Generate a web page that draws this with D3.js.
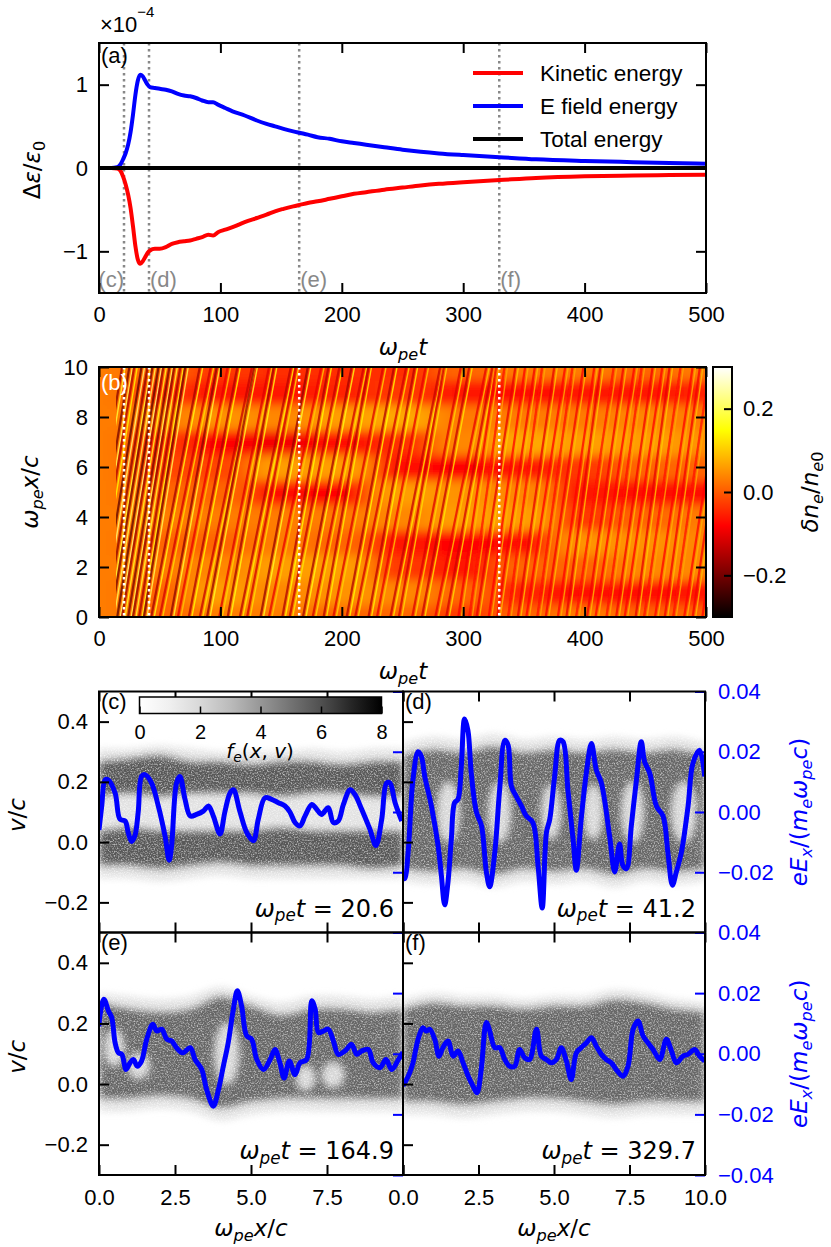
<!DOCTYPE html>
<html lang="en">

<head>
  <meta charset="UTF-8">
  <title>Energy exchange, density and phase space</title>
  <script src="https://d3js.org/d3.v7.min.js"></script>
  <style>
    body {
      margin: 0;
      background: white;
    }

    svg {
      display: block;
    }

    text {
      white-space: pre;
    }
  </style>
</head>

<body>
  <div id="figure"></div>

  <script>
    // ---------- (a) energy history, values in units of 1e-4 ----------
    const energyT = [0, 10, 15, 18, 20, 22, 24, 26, 28, 30, 32, 34, 36, 38, 40, 42, 46, 50, 55, 60, 65, 70, 75, 80,
      85, 90, 94, 98, 104, 110, 120, 130, 138, 145, 152, 160, 166, 172, 180, 190, 200, 210, 220, 235, 250, 265, 280,
      300, 330, 360, 400, 440, 470, 500]
    const fieldEnergy = [0, 0, 0.01, 0.05, 0.11, 0.18, 0.28, 0.43, 0.64, 0.88, 1.05, 1.12, 1.1, 1.05, 1.0, 0.97, 0.96,
      0.95, 0.94, 0.92, 0.89, 0.87, 0.86, 0.84, 0.81, 0.79, 0.79, 0.76, 0.72, 0.68, 0.63, 0.57, 0.53, 0.5, 0.47, 0.44,
      0.42, 0.4, 0.37, 0.35, 0.32, 0.3, 0.28, 0.25, 0.22, 0.195, 0.175, 0.155, 0.13, 0.105, 0.085, 0.07, 0.06, 0.05]
    const kineticEnergy = [0, 0, -0.005, -0.04, -0.11, -0.2, -0.32, -0.48, -0.7, -0.94, -1.1, -1.15, -1.12, -1.07,
      -1.02, -0.99, -0.97, -0.97, -0.95, -0.91, -0.89, -0.88, -0.87, -0.85, -0.83, -0.8, -0.81, -0.77, -0.74, -0.71,
      -0.65, -0.6, -0.56, -0.52, -0.49, -0.46, -0.44, -0.42, -0.4, -0.37, -0.34, -0.31, -0.29, -0.26, -0.235, -0.21,
      -0.19, -0.17, -0.145, -0.12, -0.1, -0.09, -0.085, -0.08]
    const totalT = [0, 500]
    const totalEnergy = [0, 0]
    const legendNames = ['Kinetic energy', 'E field energy', 'Total energy']
    const legendColors = ['#ff0000', '#0000ff', '#000000']
    const energyTicks = [-1, 0, 1]
    const timeTicks = [0, 100, 200, 300, 400, 500]

    // snapshot times shown in (c)-(f)
    const snapTimes = [20.6, 41.2, 164.9, 329.7]
    const snapNames = ['(c)', '(d)', '(e)', '(f)']

    // ---------- (b) density perturbation dn/n0 ----------
    const bgT = [0, 50, 100, 150, 200, 250, 300, 350, 400, 450, 500]
    const bgX = [0, 1, 2, 3, 4, 5, 6, 7, 8, 9, 10]
    const bgDensity = [
      [0.03, 0.01, 0.03, 0.03, 0.01, 0.01, -0.03, 0.01, 0.03, 0.01, 0.01],
      [0.03, 0.01, 0.06, 0.04, 0.05, 0.04, 0.01, -0.05, -0.07, -0.07, -0.06],
      [0.03, 0.03, 0.04, 0.06, 0.06, -0.03, -0.06, 0.01, 0.01, 0.04, 0.04],
      [0.03, 0.01, 0.01, 0.03, 0.01, -0.06, -0.08, -0.07, 0.05, 0.05, 0.04],
      [0.03, 0.03, 0.03, 0.03, 0.03, 0.04, 0.06, 0.06, -0.03, 0.01, 0.03],
      [0.03, 0.01, 0.01, -0.07, -0.08, 0.06, 0.05, 0.04, -0.06, -0.07, -0.07],
      [0.03, -0.02, -0.02, 0.06, 0.06, -0.07, -0.08, -0.06, -0.03, 0.01, 0.01],
      [0.03, -0.03, -0.08, -0.09, -0.07, -0.04, 0.04, 0.07, 0.06, 0.06, 0.05],
      [0.03, 0.03, 0.05, 0.04, 0.06, 0.07, 0.03, 0.03, 0.03, 0.04, 0.03],
      [0.03, -0.03, -0.06, -0.06, -0.05, -0.03, -0.06, -0.07, -0.06, -0.06, -0.05],
      [0.03, 0.01, -0.03, -0.04, -0.04, -0.04, 0.01, 0.03, 0.03, 0.01, 0.03]
    ]
    // streaks: time where each crosses x = 0 and x = 10, and its strength
    const earlyStart = [-15, -9, -5, 1, 6, 10, 15, 19, 24, 28, 33, 37]
    const earlyEnd = [19, 25, 29, 35, 40, 44, 49, 53, 58, 62, 67, 71]
    const earlyAmp = [0.18, 0.2, 0.15, 0.22, 0.18, 0.2, 0.22, 0.17, 0.2, 0.18, 0.16, 0.2]
    const midStart = [43, 50, 59, 65, 74, 83, 89, 99, 106, 116, 122, 133, 140, 151, 157, 168, 176, 185, 193, 204, 211,
      222, 229, 240, 247, 258, 266, 277, 286]
    const midEnd = [83, 92, 97, 106, 114, 126, 128, 140, 144, 158, 162, 172, 183, 189, 198, 208, 218, 222, 234, 243,
      253, 260, 269, 281, 284, 298, 305, 319, 324]
    const midAmp = [0.16, 0.12, 0.18, 0.1, 0.15, 0.13, 0.17, 0.11, 0.16, 0.14, 0.12, 0.17, 0.1, 0.15, 0.13, 0.16, 0.12,
      0.14, 0.11, 0.15, 0.12, 0.14, 0.1, 0.13, 0.12, 0.11, 0.13, 0.1, 0.12]
    const lateStart = [296, 305, 311, 321, 328, 337, 345, 352, 361, 368, 378, 385, 393, 402, 409, 418, 426, 433, 442,
      449, 458, 466, 473, 482, 489, 497]
    const lateEnd = [327, 334, 343, 351, 359, 365, 375, 384, 390, 399, 408, 413, 424, 432, 441, 447, 456, 464, 470, 479,
      489, 495, 503, 514, 519, 526]
    const lateAmp = [0.09, 0.07, 0.1, 0.08, 0.09, 0.07, 0.1, 0.08, 0.07, 0.09, 0.08, 0.1, 0.07, 0.09, 0.08, 0.07, 0.09,
      0.08, 0.1, 0.07, 0.08, 0.09, 0.07, 0.08, 0.09, 0.08]
    const densTicks = [-0.2, 0, 0.2]
    const posTicks = [0, 2, 4, 6, 8, 10]

    // ---------- (c)-(f) phase space f_e(x, v) ----------
    const psX = [0, 1, 2, 3, 4, 5, 6, 7, 8, 9, 10]
    const cHaloHi = [0.31, 0.31, 0.32, 0.31, 0.3, 0.3, 0.3, 0.31, 0.3, 0.31, 0.31]
    const cHaloLo = [-0.12, -0.12, -0.13, -0.12, -0.11, -0.12, -0.12, -0.12, -0.12, -0.12, -0.12]
    const cUpperHi = [0.27, 0.28, 0.29, 0.27, 0.27, 0.26, 0.27, 0.27, 0.26, 0.27, 0.27]
    const cUpperLo = [0.15, 0.16, 0.15, 0.16, 0.16, 0.16, 0.15, 0.16, 0.16, 0.15, 0.15]
    const cLowerHi = [0.04, 0.05, 0.04, 0.04, 0.04, 0.04, 0.05, 0.04, 0.04, 0.04, 0.04]
    const cLowerLo = [-0.08, -0.08, -0.09, -0.08, -0.07, -0.08, -0.08, -0.08, -0.08, -0.09, -0.08]

    const dHaloHi = [0.33, 0.35, 0.34, 0.36, 0.34, 0.35, 0.34, 0.35, 0.34, 0.35, 0.33]
    const dHaloLo = [-0.13, -0.14, -0.13, -0.15, -0.13, -0.14, -0.13, -0.15, -0.13, -0.14, -0.13]
    const dCoreHi = [0.29, 0.31, 0.3, 0.32, 0.3, 0.31, 0.3, 0.31, 0.3, 0.31, 0.29]
    const dCoreLo = [-0.09, -0.1, -0.09, -0.11, -0.09, -0.1, -0.09, -0.11, -0.09, -0.1, -0.09]
    const dHoleX = [1.5, 3.2, 4.9, 6.3, 7.6, 9.3]
    const dHoleV = [0.1, 0.1, 0.1, 0.1, 0.1, 0.1]
    const dHoleW = [0.35, 0.35, 0.3, 0.3, 0.35, 0.4]
    const dHoleH = [0.1, 0.1, 0.09, 0.09, 0.1, 0.1]

    const eHaloHi = [0.3, 0.29, 0.28, 0.29, 0.32, 0.29, 0.27, 0.29, 0.29, 0.28, 0.29]
    const eHaloLo = [-0.09, -0.09, -0.08, -0.09, -0.12, -0.1, -0.09, -0.09, -0.09, -0.09, -0.09]
    const eCoreHi = [0.27, 0.25, 0.24, 0.25, 0.29, 0.26, 0.23, 0.25, 0.25, 0.24, 0.25]
    const eCoreLo = [-0.05, -0.05, -0.04, -0.05, -0.08, -0.06, -0.05, -0.05, -0.05, -0.05, -0.05]
    const eHoleX = [0.5, 1.3, 4.2, 6.8, 7.7]
    const eHoleV = [0.12, 0.06, 0.1, 0.02, 0.03]
    const eHoleW = [0.3, 0.35, 0.38, 0.3, 0.35]
    const eHoleH = [0.06, 0.04, 0.1, 0.04, 0.04]

    const fHaloHi = [0.28, 0.3, 0.29, 0.29, 0.28, 0.29, 0.29, 0.31, 0.3, 0.28, 0.27]
    const fHaloLo = [-0.1, -0.1, -0.11, -0.1, -0.09, -0.09, -0.1, -0.11, -0.1, -0.1, -0.1]
    const fCoreHi = [0.25, 0.27, 0.26, 0.26, 0.25, 0.26, 0.26, 0.28, 0.27, 0.25, 0.24]
    const fCoreLo = [-0.06, -0.06, -0.07, -0.06, -0.05, -0.05, -0.06, -0.07, -0.06, -0.06, -0.06]

    // electric field eEx/(me wpe c) along x
    const cFieldX = [0, 0.09, 0.2, 0.3, 0.53, 0.69, 0.86, 0.96, 1.07, 1.18, 1.29, 1.4, 1.51, 1.73, 1.95, 2.17, 2.31,
      2.39, 2.55, 2.66, 2.83, 3.0, 3.21, 3.43, 3.6, 3.76, 3.98, 4.14, 4.31, 4.42, 4.64, 4.86, 5.08, 5.24, 5.46, 5.68,
      5.9, 6.12, 6.28, 6.45, 6.61, 6.78, 7.0, 7.16, 7.32, 7.54, 7.71, 7.87, 8.04, 8.26, 8.42, 8.64, 8.91, 9.11, 9.3,
      9.46, 9.57, 9.74, 9.96]
    const cFieldE = [-0.006, 0.002, 0.0107, 0.0107, 0.0063, -0.0024, -0.003, -0.0068, -0.0098, -0.0079, 0.0, 0.0118,
      0.0124, 0.0096, 0.002, -0.0079, -0.016, -0.011, 0.0096, 0.0118, 0.0042, -0.0013, -0.0008, 0.0003, 0.002, -0.0013,
      -0.0073, 0.0, 0.0063, 0.0074, 0.0, -0.0068, -0.0095, -0.0024, 0.0047, 0.0042, 0.0031, 0.002, 0.0, -0.0035,
      -0.0046, -0.0013, 0.0025, 0.0009, -0.0008, 0.0014, -0.0035, -0.003, 0.0025, 0.0074, 0.0058, 0.0009, -0.0057,
      -0.0111, -0.0024, 0.0096, 0.0096, 0.0031, -0.003]
    const dFieldX = [0, 0.06, 0.17, 0.33, 0.5, 0.61, 0.72, 0.94, 1.16, 1.27, 1.38, 1.49, 1.6, 1.71, 1.82, 1.93, 2.04,
      2.15, 2.26, 2.43, 2.6, 2.76, 2.87, 3.04, 3.2, 3.37, 3.48, 3.59, 3.75, 3.92, 4.08, 4.3, 4.47, 4.61, 4.75, 4.86,
      5.02, 5.19, 5.3, 5.46, 5.63, 5.74, 5.9, 6.07, 6.24, 6.4, 6.57, 6.84, 7.01, 7.17, 7.28, 7.4, 7.56, 7.73, 7.89, 8.0,
      8.17, 8.39, 8.61, 8.77, 8.92, 9.05, 9.22, 9.44, 9.6, 9.82, 9.99]
    const dFieldE = [-0.022, -0.0221, -0.0133, 0.0107, 0.02, 0.0184, 0.0118, 0.002, -0.0111, -0.021, -0.0308, -0.0232,
      -0.009, 0.0031, 0.0042, 0.0151, 0.0309, 0.0271, 0.0129, 0.0, -0.0046, -0.0199, -0.0248, -0.0133, 0.0074, 0.0238,
      0.0222, 0.0085, 0.0052, 0.002, -0.0013, -0.0035, -0.0177, -0.0319, -0.0068, -0.0024, 0.0118, 0.0238, 0.0233,
      0.0074, -0.009, -0.0193, -0.0024, 0.0129, 0.0227, 0.014, 0.0096, -0.0079, -0.0199, -0.0106, -0.0177, -0.0188,
      -0.0046, 0.0107, 0.0233, 0.0167, 0.0129, 0.002, -0.0013, -0.0133, -0.0243, -0.0199, -0.0133, 0.002, 0.0162,
      0.0205, 0.0118]
    const eFieldX = [0.0, 0.03, 0.16, 0.31, 0.42, 0.53, 0.64, 0.75, 0.89, 1.02, 1.13, 1.26, 1.4, 1.57, 1.77, 1.9, 2.06,
      2.23, 2.39, 2.55, 2.75, 3.0, 3.16, 3.38, 3.54, 3.76, 3.93, 4.09, 4.25, 4.42, 4.55, 4.69, 4.86, 5.02, 5.19, 5.41,
      5.63, 5.79, 5.95, 6.09, 6.26, 6.45, 6.61, 6.83, 7.0, 7.11, 7.22, 7.38, 7.54, 7.71, 7.87, 8.09, 8.31, 8.48, 8.64,
      8.86, 9.02, 9.24, 9.44, 9.63, 9.85, 10.0]
    const eFieldE = [0.009, 0.0125, 0.018, 0.0141, 0.0119, 0.0036, 0.0003, -0.0002, -0.0052, -0.003, -0.0019, -0.0041,
      -0.0024, 0.0048, 0.0097, 0.0075, 0.0081, 0.0048, 0.0042, 0.002, 0.0003, 0.002, -0.0019, -0.0052, -0.0118,
      -0.0173, -0.0118, -0.0041, 0.0036, 0.0147, 0.0208, 0.0158, 0.0059, 0.0048, -0.0019, -0.0052, -0.0019, 0.0014,
      -0.003, -0.008, -0.0024, -0.0069, -0.003, -0.0019, 0.0175, 0.0147, 0.007, 0.0075, 0.0081, 0.0042, -0.0002, 0.0009,
      0.0031, -0.0002, 0.0009, 0.0014, -0.003, -0.0046, -0.0019, -0.0052, -0.0019, 0.0005]
    const fFieldX = [0, 0.06, 0.22, 0.33, 0.5, 0.66, 0.77, 0.88, 1.05, 1.19, 1.32, 1.49, 1.66, 1.82, 1.99, 2.16, 2.32,
      2.45, 2.59, 2.76, 2.87, 3.04, 3.2, 3.37, 3.53, 3.7, 3.86, 4.03, 4.19, 4.42, 4.58, 4.75, 4.91, 5.08, 5.24, 5.41,
      5.57, 5.74, 5.9, 6.07, 6.24, 6.4, 6.57, 6.73, 6.9, 7.06, 7.28, 7.45, 7.62, 7.78, 7.95, 8.11, 8.28, 8.5, 8.72,
      8.89, 9.05, 9.27, 9.44, 9.66, 9.82, 9.99]
    const fFieldE = [-0.0105, -0.0096, -0.0063, -0.003, 0.0048, 0.0086, 0.0075, 0.0081, 0.0048, -0.0008, 0.002, 0.0042,
      -0.0008, 0.0009, -0.003, -0.0074, -0.0107, -0.0129, -0.0052, 0.0103, 0.0075, 0.002, 0.002, -0.0019, -0.0041,
      -0.0041, 0.0014, -0.0013, -0.0019, 0.0081, -0.0008, -0.0019, -0.003, -0.0019, 0.002, -0.0024, -0.0085, 0.0003,
      0.002, 0.0036, 0.0053, 0.0025, -0.0002, -0.0019, -0.003, -0.0052, -0.0074, -0.0041, 0.0081, 0.0108, 0.0059,
      0.0036, 0.0014, -0.0019, 0.0048, 0.0009, -0.003, -0.0008, -0.0002, 0.0014, -0.0008, -0.0024]

    const velTicks = [-0.2, 0, 0.2, 0.4]
    const fieldTicks = [-0.04, -0.02, 0, 0.02, 0.04]
    const xTicks = [0, 2.5, 5, 7.5, 10]
    const fTicks = [0, 2, 4, 6, 8]

    // ---------------------------------------------------------------
    const sans = '"Liberation Sans", Arial, Helvetica, sans-serif'
    const mathFont = '"DejaVu Sans", sans-serif'

    const svg = d3.select('#figure')
      .append('svg')
      .attr('width', 831)
      .attr('height', 1247)
      .attr('font-family', sans)

    svg.append('rect').attr('width', 831).attr('height', 1247).attr('fill', 'white')
    const defs = svg.append('defs')

    const clip = (id, x0, y0, x1, y1) => {
      defs.append('clipPath').attr('id', id)
        .append('rect')
        .attr('x', x0).attr('y', y0)
        .attr('width', x1 - x0).attr('height', y1 - y0)
      return `url(#${id})`
    }

    const blur = (id, sd) => {
      defs.append('filter').attr('id', id)
        .attr('x', '-20%').attr('y', '-20%').attr('width', '140%').attr('height', '140%')
        .append('feGaussianBlur').attr('stdDeviation', sd)
      return `url(#${id})`
    }

    // soft edges plus a fine particle-noise look for the phase-space density
    const grain = defs.append('filter').attr('id', 'grain')
      .attr('x', '-10%').attr('y', '-10%').attr('width', '120%').attr('height', '120%')
    grain.append('feGaussianBlur').attr('in', 'SourceGraphic').attr('stdDeviation', 3.5).attr('result', 'soft')
    grain.append('feTurbulence').attr('type', 'fractalNoise').attr('baseFrequency', 0.7)
      .attr('numOctaves', 2).attr('seed', 7).attr('result', 'noise')
    grain.append('feColorMatrix').attr('in', 'noise').attr('type', 'matrix')
      .attr('values', '0 0 0 0 0  0 0 0 0 0  0 0 0 0 0  1.6 0 0 0 0.1').attr('result', 'mask')
    grain.append('feComposite').attr('in', 'soft').attr('in2', 'mask').attr('operator', 'in')

    // text with sub-scripts, parts = [text, kind]; kind i / r / sub / subr
    const mathLabel = (g, x, y, parts, size, opts = {}) => {
      const t = g.append('text')
        .attr('x', x).attr('y', y)
        .attr('font-family', mathFont)
        .attr('font-size', size)
        .attr('text-anchor', opts.anchor || 'middle')
        .attr('fill', opts.color || 'black')
      if (opts.rotate) t.attr('transform', `rotate(${opts.rotate},${x},${y})`)
      let low = false
      parts.forEach(([s, kind]) => {
        const sub = kind === 'sub' || kind === 'subr'
        const span = t.append('tspan').text(s)
          .attr('font-style', kind === 'r' || kind === 'subr' ? 'normal' : 'italic')
        if (sub) span.attr('font-size', size * 0.7)
        if (sub !== low) {
          span.attr('dy', (sub ? 1 : -1) * size * 0.2)
          low = sub
        }
      })
      return t
    }

    const tidy = (g, color = 'black', size = 22) => {
      g.select('.domain').remove()
      g.selectAll('.tick line').attr('stroke', color).attr('stroke-width', 2)
      g.selectAll('.tick text')
        .attr('font-family', sans)
        .attr('font-size', size)
        .attr('fill', color)
      return g
    }

    const frame = (g, x0, y0, x1, y1) => g.append('rect')
      .attr('x', x0).attr('y', y0)
      .attr('width', x1 - x0).attr('height', y1 - y0)
      .attr('fill', 'none').attr('stroke', 'black').attr('stroke-width', 2)

    // ================= panel (a) =================
    const A = { l: 99, r: 706, t: 43, b: 293 }
    const xA = d3.scaleLinear().domain([0, 500]).range([A.l, A.r])
    const yA = d3.scaleLinear().domain([-1.5, 1.5]).range([A.b, A.t])
    const gA = svg.append('g')
    const clipA = clip('clipA', A.l, A.t, A.r, A.b)

    gA.selectAll('.snapA')
      .data(snapTimes)
      .join('line')
      .attr('x1', d => xA(d)).attr('x2', d => xA(d))
      .attr('y1', A.t).attr('y2', A.b)
      .attr('stroke', '#888888').attr('stroke-width', 2.5)
      .attr('stroke-dasharray', '2.5,3.5')

    gA.selectAll('.snapName')
      .data(snapTimes)
      .join('text')
      .attr('x', (d, i) => i === 0 ? xA(d) : xA(d) + 1)
      .attr('y', A.b - 6)
      .attr('text-anchor', (d, i) => i === 0 ? 'end' : 'start')
      .attr('font-size', 22)
      .attr('fill', '#888888')
      .text((d, i) => snapNames[i])

    const energyLine = d3.line()
      .x((d, i) => xA(energyT[i]))
      .y(d => yA(d))
      .curve(d3.curveMonotoneX)

    const curvesA = gA.append('g').attr('clip-path', clipA)
    curvesA.append('path')
      .attr('d', energyLine(kineticEnergy))
      .attr('fill', 'none').attr('stroke', legendColors[0]).attr('stroke-width', 4)
    curvesA.append('path')
      .attr('d', energyLine(fieldEnergy))
      .attr('fill', 'none').attr('stroke', legendColors[1]).attr('stroke-width', 4)
    curvesA.append('path')
      .attr('d', d3.line().x((d, i) => xA(totalT[i])).y(d => yA(d))(totalEnergy))
      .attr('fill', 'none').attr('stroke', legendColors[2]).attr('stroke-width', 4)

    // legend
    const legend = gA.append('g')
    legendNames.forEach((name, i) => {
      const y = 73 + i * 33
      legend.append('line')
        .attr('x1', 473).attr('x2', 523).attr('y1', y).attr('y2', y)
        .attr('stroke', legendColors[i]).attr('stroke-width', 4)
      legend.append('text')
        .attr('x', 540).attr('y', y + 8)
        .attr('font-size', 22.5)
        .text(name)
    })

    tidy(gA.append('g').attr('transform', `translate(0,${A.b})`)
      .call(d3.axisBottom(xA).tickValues(timeTicks).tickSize(-10).tickPadding(13)))
    tidy(gA.append('g').attr('transform', `translate(0,${A.t})`)
      .call(d3.axisTop(xA).tickValues(timeTicks).tickSize(-10).tickFormat('')))
    tidy(gA.append('g').attr('transform', `translate(${A.l},0)`)
      .call(d3.axisLeft(yA).tickValues(energyTicks).tickSize(-10).tickPadding(11).tickFormat(d3.format('d'))))
    tidy(gA.append('g').attr('transform', `translate(${A.r},0)`)
      .call(d3.axisRight(yA).tickValues(energyTicks).tickSize(-10).tickFormat('')))
    frame(gA, A.l, A.t, A.r, A.b)

    gA.append('text').attr('x', 101).attr('y', 63).attr('font-size', 22).text('(a)')

    const expo = gA.append('text').attr('x', 100).attr('y', 32).attr('font-size', 22)
    expo.append('tspan').text('×10')
    expo.append('tspan').attr('dy', -15).attr('font-size', 15).text('−4')

    mathLabel(gA, 40, 170, [['Δ', 'r'], ['ε', 'i'], ['/', 'r'], ['ε', 'i'], ['0', 'subr']], 23, { rotate: -90 })
    mathLabel(gA, 403, 355, [['ω', 'i'], ['pe', 'sub'], ['t', 'i']], 23)

    // ================= panel (b) =================
    const B = { l: 99, r: 706, t: 367, b: 617 }
    const xB = d3.scaleLinear().domain([0, 500]).range([B.l, B.r])
    const yB = d3.scaleLinear().domain([0, 10]).range([B.b, B.t])
    const hot = d3.scaleLinear()
      .domain([-0.3, -0.081, 0.148, 0.3])
      .range(['#000000', '#ff0000', '#ffff00', '#ffffff'])
      .clamp(true)
    const gB = svg.append('g')
    const heat = gB.append('g').attr('clip-path', clip('clipB', B.l, B.t, B.r, B.b))

    heat.append('rect')
      .attr('x', B.l).attr('y', B.t).attr('width', B.r - B.l).attr('height', B.b - B.t)
      .attr('fill', hot(0.03))

    const colBand = d3.scaleBand().domain(d3.range(bgT.length)).range([xB(-25), xB(525)])
    const rowBand = d3.scaleBand().domain(d3.range(bgX.length)).range([yB(-0.5), yB(10.5)])
    const cells = bgDensity.flatMap((row, i) => row.map((v, j) => ({ i, j, v })))

    heat.append('g')
      .attr('filter', blur('blurGrid', '13 5'))
      .selectAll('rect')
      .data(cells)
      .join('rect')
      .attr('x', d => colBand(d.j))
      .attr('y', d => rowBand(d.i))
      .attr('width', colBand.bandwidth() + 1)
      .attr('height', rowBand.bandwidth() + 1)
      .attr('fill', d => hot(d.v))

    const streakFamilies = [
      [earlyStart, earlyEnd, earlyAmp],
      [midStart, midEnd, midAmp],
      [lateStart, lateEnd, lateAmp]
    ]
    const streaks = heat.append('g')
      .attr('clip-path', clip('clipStreak', xB(14), B.t, B.r, B.b))
      .append('g')
      .attr('filter', blur('blurStreak', 0.5))
    streakFamilies.forEach(([starts, ends, amps]) => {
      starts.forEach((s, n) => {
        streaks.append('line')
          .attr('x1', xB(s)).attr('y1', yB(0))
          .attr('x2', xB(ends[n])).attr('y2', yB(10))
          .attr('stroke', hot(-amps[n])).attr('stroke-width', 2.2).attr('opacity', 0.75)
        streaks.append('line')
          .attr('x1', xB(s + 2.5)).attr('y1', yB(0))
          .attr('x2', xB(ends[n] + 2.5)).attr('y2', yB(10))
          .attr('stroke', hot(amps[n])).attr('stroke-width', 1.4).attr('opacity', 0.8)
      })
    })

    gB.selectAll('.snapB')
      .data(snapTimes)
      .join('line')
      .attr('x1', d => xB(d)).attr('x2', d => xB(d))
      .attr('y1', B.t).attr('y2', B.b)
      .attr('stroke', 'white').attr('stroke-width', 2.5)
      .attr('stroke-dasharray', '2.5,3.5')

    tidy(gB.append('g').attr('transform', `translate(0,${B.b})`)
      .call(d3.axisBottom(xB).tickValues(timeTicks).tickSize(-10).tickPadding(13)))
    tidy(gB.append('g').attr('transform', `translate(0,${B.t})`)
      .call(d3.axisTop(xB).tickValues(timeTicks).tickSize(-10).tickFormat('')))
    tidy(gB.append('g').attr('transform', `translate(${B.l},0)`)
      .call(d3.axisLeft(yB).tickValues(posTicks).tickSize(-10).tickPadding(11)))
    tidy(gB.append('g').attr('transform', `translate(${B.r},0)`)
      .call(d3.axisRight(yB).tickValues(posTicks).tickSize(-10).tickFormat('')))
    frame(gB, B.l, B.t, B.r, B.b)

    gB.append('text').attr('x', 101).attr('y', 390).attr('font-size', 22).attr('fill', 'white').text('(b)')
    mathLabel(gB, 38, 492, [['ω', 'i'], ['pe', 'sub'], ['x', 'i'], ['/', 'r'], ['c', 'i']], 23, { rotate: -90 })
    mathLabel(gB, 403, 679, [['ω', 'i'], ['pe', 'sub'], ['t', 'i']], 23)

    // colour bar
    const CB = { l: 713, r: 732 }
    const yC = d3.scaleLinear().domain([-0.3, 0.3]).range([B.b, B.t])
    const hotGrad = defs.append('linearGradient').attr('id', 'hotGrad')
      .attr('x1', 0).attr('y1', 1).attr('x2', 0).attr('y2', 0)
    hot.domain().forEach((d, i) => {
      hotGrad.append('stop')
        .attr('offset', (d + 0.3) / 0.6)
        .attr('stop-color', hot.range()[i])
    })
    gB.append('rect')
      .attr('x', CB.l).attr('y', B.t).attr('width', CB.r - CB.l).attr('height', B.b - B.t)
      .attr('fill', 'url(#hotGrad)')
    tidy(gB.append('g').attr('transform', `translate(${CB.r},0)`)
      .call(d3.axisRight(yC).tickValues(densTicks).tickSize(-8).tickPadding(11).tickFormat(d3.format('.1f'))))
    frame(gB, CB.l, B.t, CB.r, B.b)
    mathLabel(gB, 818, 492, [['δ', 'i'], ['n', 'i'], ['e', 'sub'], ['/', 'r'], ['n', 'i'], ['e', 'sub'], ['0', 'subr']],
      23, { rotate: -90 })

    // ================= panels (c)-(f) =================
    const cols = [[99, 403], [403, 705]]
    const rows = [[691.5, 932.5], [932.5, 1175]]
    const grey = d3.scaleSequential(d3.interpolateGreys).domain([0, 8])

    const panels = [
      {
        col: 0, row: 0, fx: cFieldX, fe: cFieldE,
        bands: [[cHaloLo, cHaloHi, 1.6], [cUpperLo, cUpperHi, 5.8], [cLowerLo, cLowerHi, 5.8]],
        holes: null
      },
      {
        col: 1, row: 0, fx: dFieldX, fe: dFieldE,
        bands: [[dHaloLo, dHaloHi, 1.6], [dCoreLo, dCoreHi, 5.4]],
        holes: [dHoleX, dHoleV, dHoleW, dHoleH]
      },
      {
        col: 0, row: 1, fx: eFieldX, fe: eFieldE,
        bands: [[eHaloLo, eHaloHi, 1.6], [eCoreLo, eCoreHi, 5.4]],
        holes: [eHoleX, eHoleV, eHoleW, eHoleH]
      },
      {
        col: 1, row: 1, fx: fFieldX, fe: fFieldE,
        bands: [[fHaloLo, fHaloHi, 1.6], [fCoreLo, fCoreHi, 5.4]],
        holes: null
      }
    ]

    const fmt1 = d3.format('.1f')
    const fmt2 = d3.format('.2f')

    panels.forEach((p, k) => {
      const [x0, x1] = cols[p.col]
      const [y0, y1] = rows[p.row]
      const xP = d3.scaleLinear().domain([0, 10]).range([x0, x1])
      const yV = d3.scaleLinear().domain([-0.3, 0.5]).range([y1, y0])
      const yE = d3.scaleLinear().domain([-0.04, 0.04]).range([y1, y0])
      const g = svg.append('g')
      const inner = g.append('g').attr('clip-path', clip(`clipP${k}`, x0, y0, x1, y1))

      const dens = inner.append('g').attr('filter', 'url(#grain)')
      p.bands.forEach(([lo, hi, level]) => {
        dens.append('path')
          .attr('d', d3.area()
            .x((d, i) => xP(psX[i]))
            .y0((d, i) => yV(lo[i]))
            .y1((d, i) => yV(hi[i]))
            .curve(d3.curveCatmullRom)(psX))
          .attr('fill', grey(level))
      })
      if (p.holes) {
        const [hx, hv, hw, hh] = p.holes
        dens.selectAll('ellipse')
          .data(hx)
          .join('ellipse')
          .attr('cx', d => xP(d))
          .attr('cy', (d, i) => yV(hv[i]))
          .attr('rx', (d, i) => xP(hw[i]) - xP(0))
          .attr('ry', (d, i) => yV(0) - yV(hh[i]))
          .attr('fill', grey(2))
      }

      inner.append('path')
        .attr('d', d3.line().x((d, i) => xP(p.fx[i])).y(d => yE(d)).curve(d3.curveCatmullRom)(p.fe))
        .attr('fill', 'none')
        .attr('stroke', '#0000ff')
        .attr('stroke-width', 5)
        .attr('stroke-linejoin', 'round')

      // axes
      tidy(g.append('g').attr('transform', `translate(0,${y1})`)
        .call(d3.axisBottom(xP).tickValues(xTicks).tickSize(-10).tickPadding(14)
          .tickFormat(d => p.row === 1 && !(p.col === 0 && d === 10) ? fmt1(d) : '')))
      tidy(g.append('g').attr('transform', `translate(0,${y0})`)
        .call(d3.axisTop(xP).tickValues(xTicks).tickSize(-10).tickFormat('')))
      tidy(g.append('g').attr('transform', `translate(${x0},0)`)
        .call(d3.axisLeft(yV).tickValues(velTicks).tickSize(-10).tickPadding(11)
          .tickFormat(d => p.col === 0 ? fmt1(d) : '')))
      tidy(g.append('g').attr('transform', `translate(${x1},0)`)
        .call(d3.axisRight(yE).tickValues(fieldTicks).tickSize(-10).tickPadding(13)
          .tickFormat(d => p.col === 1 && !(p.row === 0 && d === -0.04) ? fmt2(d) : '')), '#0000ff')
      frame(g, x0, y0, x1, y1)

      g.append('text').attr('x', x0 + 2).attr('y', y0 + 17).attr('font-size', 22).text(snapNames[k])
      mathLabel(g, x1 - 9, y1 - 16,
        [['ω', 'i'], ['pe', 'sub'], ['t', 'i'], [' = ' + fmt1(snapTimes[k]), 'r']], 24, { anchor: 'end' })

      if (p.col === 0) {
        mathLabel(g, 25, (y0 + y1) / 2 + 3, [['v', 'i'], ['/', 'r'], ['c', 'i']], 23, { rotate: -90 })
      } else {
        mathLabel(g, 807, (y0 + y1) / 2,
          [['eE', 'i'], ['x', 'sub'], ['/(', 'r'], ['m', 'i'], ['e', 'sub'], ['ω', 'i'], ['pe', 'sub'], ['c', 'i'],
            [')', 'r']], 23, { rotate: -90, color: '#0000ff' })
      }
      if (p.row === 1) {
        mathLabel(g, (x0 + x1) / 2, 1236, [['ω', 'i'], ['pe', 'sub'], ['x', 'i'], ['/', 'r'], ['c', 'i']], 23)
      }

      // grey colour bar inside (c)
      if (k === 0) {
        const xF = d3.scaleLinear().domain([0, 8]).range([139.5, 381.5])
        const greyGrad = defs.append('linearGradient').attr('id', 'greyGrad')
        d3.range(0, 1.001, 0.125).forEach(f => {
          greyGrad.append('stop').attr('offset', f).attr('stop-color', d3.interpolateGreys(f))
        })
        g.append('rect')
          .attr('x', xF(0)).attr('y', 697).attr('width', xF(8) - xF(0)).attr('height', 16.5)
          .attr('fill', 'url(#greyGrad)')
        const ax = tidy(g.append('g').attr('transform', 'translate(0,713.5)')
          .call(d3.axisBottom(xF).tickValues(fTicks).tickSize(-7).tickPadding(11).tickFormat(d3.format('d'))),
          'black', 20)
        ax.selectAll('.tick line').attr('stroke-width', 1.5)
        g.append('rect')
          .attr('x', xF(0)).attr('y', 697).attr('width', xF(8) - xF(0)).attr('height', 16.5)
          .attr('fill', 'none').attr('stroke', 'black').attr('stroke-width', 1.5)
        mathLabel(g, 260, 758, [['f', 'i'], ['e', 'sub'], ['(', 'r'], ['x', 'i'], [', ', 'r'], ['v', 'i'], [')', 'r']], 20)
      }
    })
  </script>
</body>

</html>
